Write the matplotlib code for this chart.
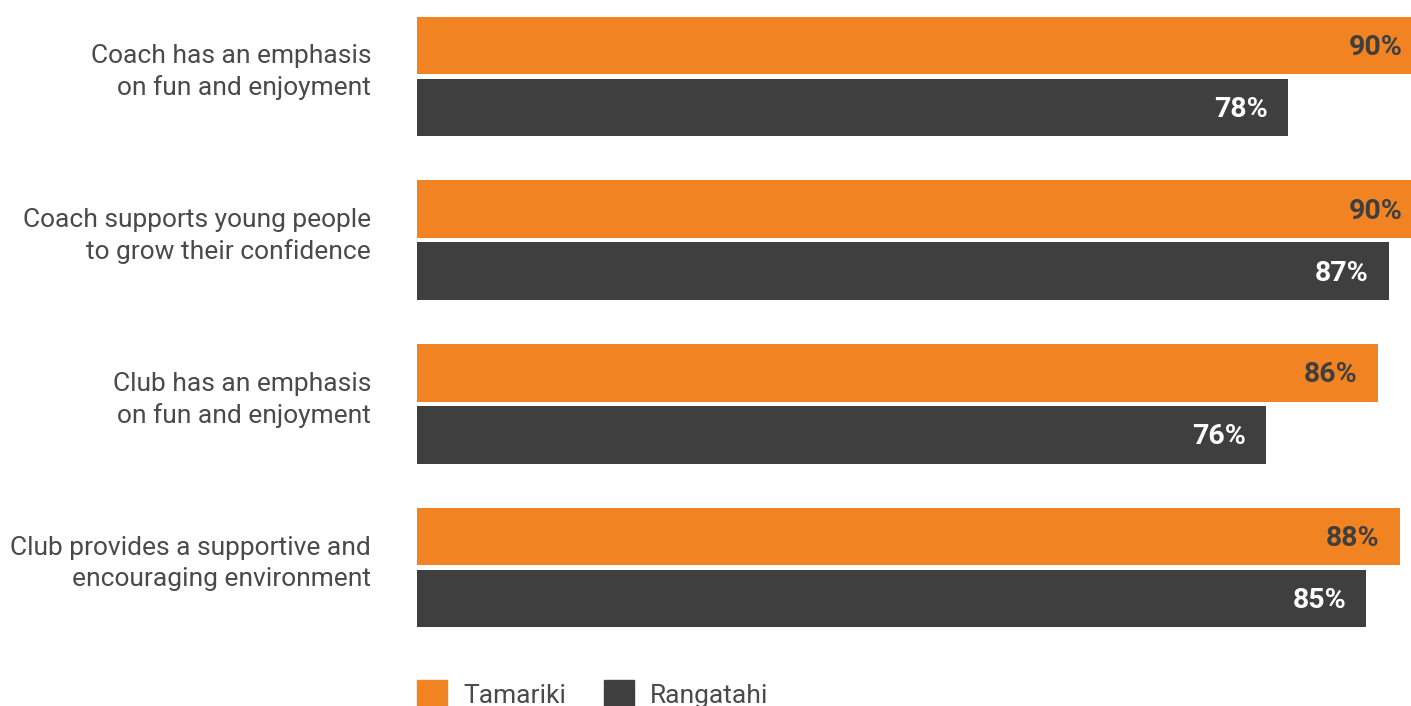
import matplotlib
matplotlib.use("Agg")
import matplotlib.pyplot as plt
from matplotlib.patches import Rectangle
import numpy as np

categories = [
    "Coach has an emphasis\non fun and enjoyment",
    "Coach supports young people\nto grow their confidence",
    "Club has an emphasis\non fun and enjoyment",
    "Club provides a supportive and\nencouraging environment",
]
series_names = ["Tamariki", "Rangatahi"]
tamariki = [90, 90, 86, 88]
rangatahi = [78, 87, 76, 85]

ORANGE = "#F28322"
DARK = "#3F3F3F"
TEXT = "#4A4A4A"

plt.rcParams["font.family"] = ["Roboto", "DejaVu Sans"]

W, H = 1411, 706
fig = plt.figure(figsize=(W / 100, H / 100), dpi=100)
ax = fig.add_axes([417 / W, 0, 1 - 417 / W, 1])

pitch = 163.67
top_center = 76.5
ax.set_ylim((H - top_center) / pitch, -top_center / pitch)
px_per_pct = 11.17
ax.set_xlim(0, (W - 417) / px_per_pct)

y = np.arange(len(categories))
off = 31 / pitch
h = 57.5 / pitch
ax.barh(y - off, tamariki, height=h, color=ORANGE)
ax.barh(y + off, rangatahi, height=h, color=DARK)

for i in range(len(categories)):
    ax.annotate(f"{tamariki[i]}%", (tamariki[i], y[i] - off), xytext=(-14.5, -1.5),
                textcoords="offset points", ha="right", va="center",
                fontsize=20.5, fontweight="bold", color=DARK, annotation_clip=False)
    ax.annotate(f"{rangatahi[i]}%", (rangatahi[i], y[i] + off), xytext=(-14.5, -1.5),
                textcoords="offset points", ha="right", va="center",
                fontsize=20.5, fontweight="bold", color="white", annotation_clip=False)
    ax.annotate(categories[i], (0, y[i]), xytext=(-33, 3), textcoords="offset points",
                ha="right", va="center", fontsize=19, color=TEXT, linespacing=1.36,
                annotation_clip=False)

ax.axis("off")

# legend
for x0, name, col in [(417, "Tamariki", ORANGE), (604, "Rangatahi", DARK)]:
    fig.patches.append(Rectangle((x0 / W, 0), 30 / W, 26 / H, transform=fig.transFigure,
                                 color=col))
    fig.text((x0 + 46) / W, 10 / H, name, ha="left", va="center", fontsize=19, color=TEXT)

fig.savefig("out.png", dpi=100)
